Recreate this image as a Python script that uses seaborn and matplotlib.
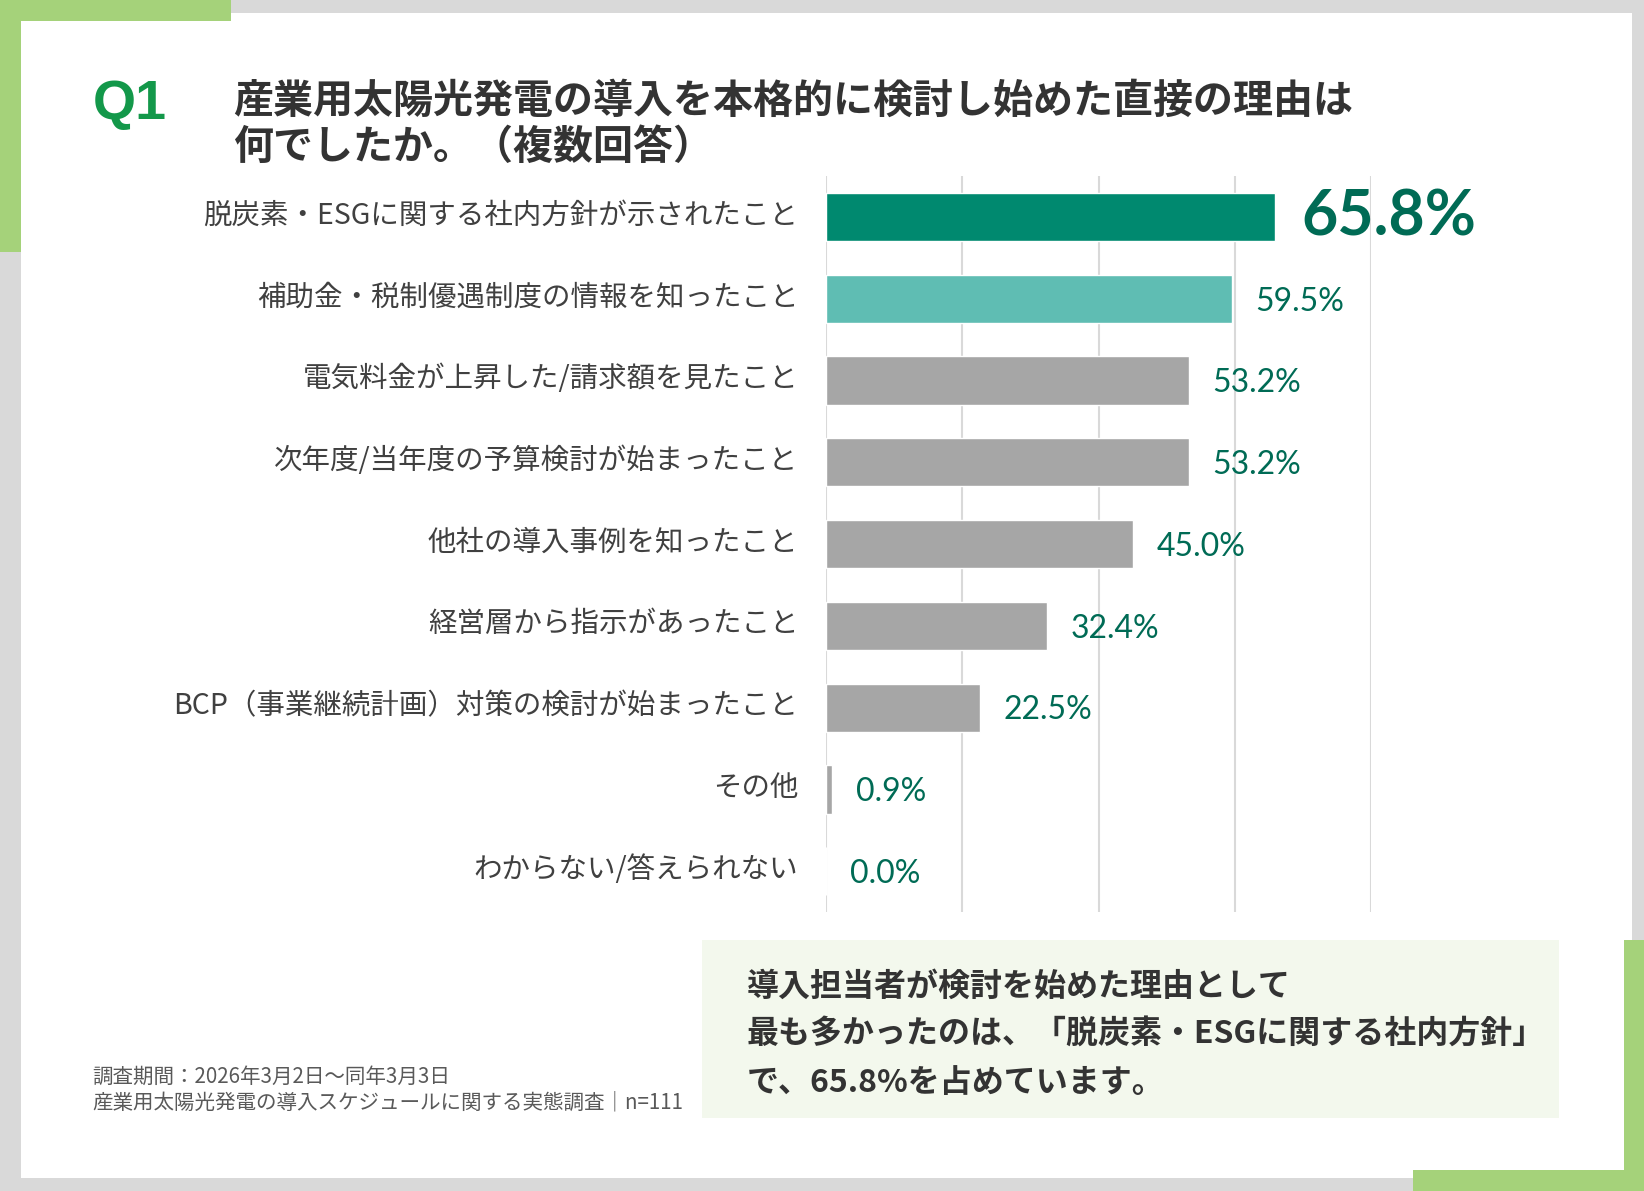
import matplotlib
matplotlib.use("Agg")
import matplotlib.pyplot as plt
import matplotlib.transforms as mtransforms
import seaborn as sns
import pandas as pd
from matplotlib.patches import Rectangle

# データ
categories = [
    "脱炭素・ESGに関する社内方針が示されたこと",
    "補助金・税制優遇制度の情報を知ったこと",
    "電気料金が上昇した/請求額を見たこと",
    "次年度/当年度の予算検討が始まったこと",
    "他社の導入事例を知ったこと",
    "経営層から指示があったこと",
    "BCP（事業継続計画）対策の検討が始まったこと",
    "その他",
    "わからない/答えられない",
]
values = [65.8, 59.5, 53.2, 53.2, 45.0, 32.4, 22.5, 0.9, 0.0]
bar_colors = ["#00896f", "#5fbdb3"] + ["#a6a6a6"] * 7

title_lines = ["産業用太陽光発電の導入を本格的に検討し始めた直接の理由は",
               "何でしたか。（複数回答）"]
note_lines = ["導入担当者が検討を始めた理由として",
              "最も多かったのは、「脱炭素・ESGに関する社内方針」",
              "で、65.8%を占めています。"]
source_lines = ["調査期間：2026年3月2日～同年3月3日",
                "産業用太陽光発電の導入スケジュールに関する実態調査｜n=111"]

df = pd.DataFrame({"category": categories, "value": values})

sns.set_theme(style="white")
plt.rcParams["font.family"] = ["Noto Sans CJK JP", "DejaVu Sans"]

W, H = 1568, 1136  # 参照画像の座標系


def fx(x):
    return x / W


def fy(y):
    return 1 - y / H


def box(x0, y0, x1, y1, color, z):
    # 参照座標 (左上, 右下) で矩形を置く
    fig.patches.append(Rectangle((fx(x0), fy(y1)), fx(x1 - x0), (y1 - y0) / H,
                                 transform=fig.transFigure, facecolor=color,
                                 edgecolor="none", zorder=z))


fig = plt.figure(figsize=(16.44, 11.91), dpi=100)
fig.patch.set_facecolor("#d9d9d9")

# 白いパネルと緑の枠
green = "#a5d27a"
box(20, 12, 1557, 1124, "white", -3)
box(0, 0, 20, 240, green, -2)
box(0, 0, 220, 20, green, -2)
box(1549, 897, 1568, 1136, green, -2)
box(1348, 1116, 1568, 1136, green, -2)

# 棒グラフ
ax = fig.add_axes([fx(788), fy(870), fx(1308 - 788), (870 - 168) / H])
ax.set_facecolor("none")
sns.barplot(data=df, x="value", y="category", hue="category", palette=bar_colors,
            legend=False, width=0.59, orient="h", ax=ax, saturation=1, zorder=3)
ax.set_xlim(0, 80)
ax.set_ylim(len(categories) - 0.5, -0.5)
ax.set_xticks([0, 20, 40, 60, 80])
ax.xaxis.grid(True, color="#d9d9d9", linewidth=1.5, zorder=0)
ax.set_axisbelow(True)
ax.tick_params(axis="x", length=0, labelbottom=False)
ax.tick_params(axis="y", length=0, pad=20, labelsize=20.5, labelcolor="#404040")
ax.set_xlabel("")
ax.set_ylabel("")
for s in ax.spines.values():
    s.set_visible(False)
# ラベルを少し上へ
shift = mtransforms.ScaledTranslation(0, 5 / 100, fig.dpi_scale_trans)
for lab in ax.get_yticklabels():
    lab.set_transform(lab.get_transform() + shift)

# 値ラベル
for i, v in enumerate(values):
    if i == 0:
        ax.annotate(f"{v:.1f}%", (v, i), xytext=(19, 0), textcoords="offset points",
                    va="center", ha="left", fontsize=45, fontweight="bold",
                    color="#006b55", family=["Lato", "DejaVu Sans"])
    else:
        ax.annotate(f"{v:.1f}%", (v, i), xytext=(17, -2), textcoords="offset points",
                    va="center", ha="left", fontsize=23,
                    color="#006b55", family=["Lato", "DejaVu Sans"])

# タイトル
fig.text(fx(88), fy(100), "Q1", fontsize=40, fontweight="bold", color="#13984a",
         va="center", ha="left", family=["Liberation Sans", "DejaVu Sans"])
for k, line in enumerate(title_lines):
    fig.text(fx(222), fy(97 + 44 * k), line, fontsize=28.8, fontweight="bold",
             color="#333333", va="center", ha="left")

# 注釈ボックス
box(670, 897, 1487, 1066, "#f3f8ed", -1)
for k, line in enumerate(note_lines):
    fig.text(fx(712), fy(941 + 46 * k), line, fontsize=23, fontweight="bold",
             color="#333333", va="center", ha="left", zorder=2)

# 出典
for k, line in enumerate(source_lines):
    fig.text(fx(88), fy(1027 + 25 * k), line, fontsize=14.8, color="#595959",
             va="center", ha="left")

fig.savefig("out.png", dpi=100, facecolor=fig.get_facecolor())
